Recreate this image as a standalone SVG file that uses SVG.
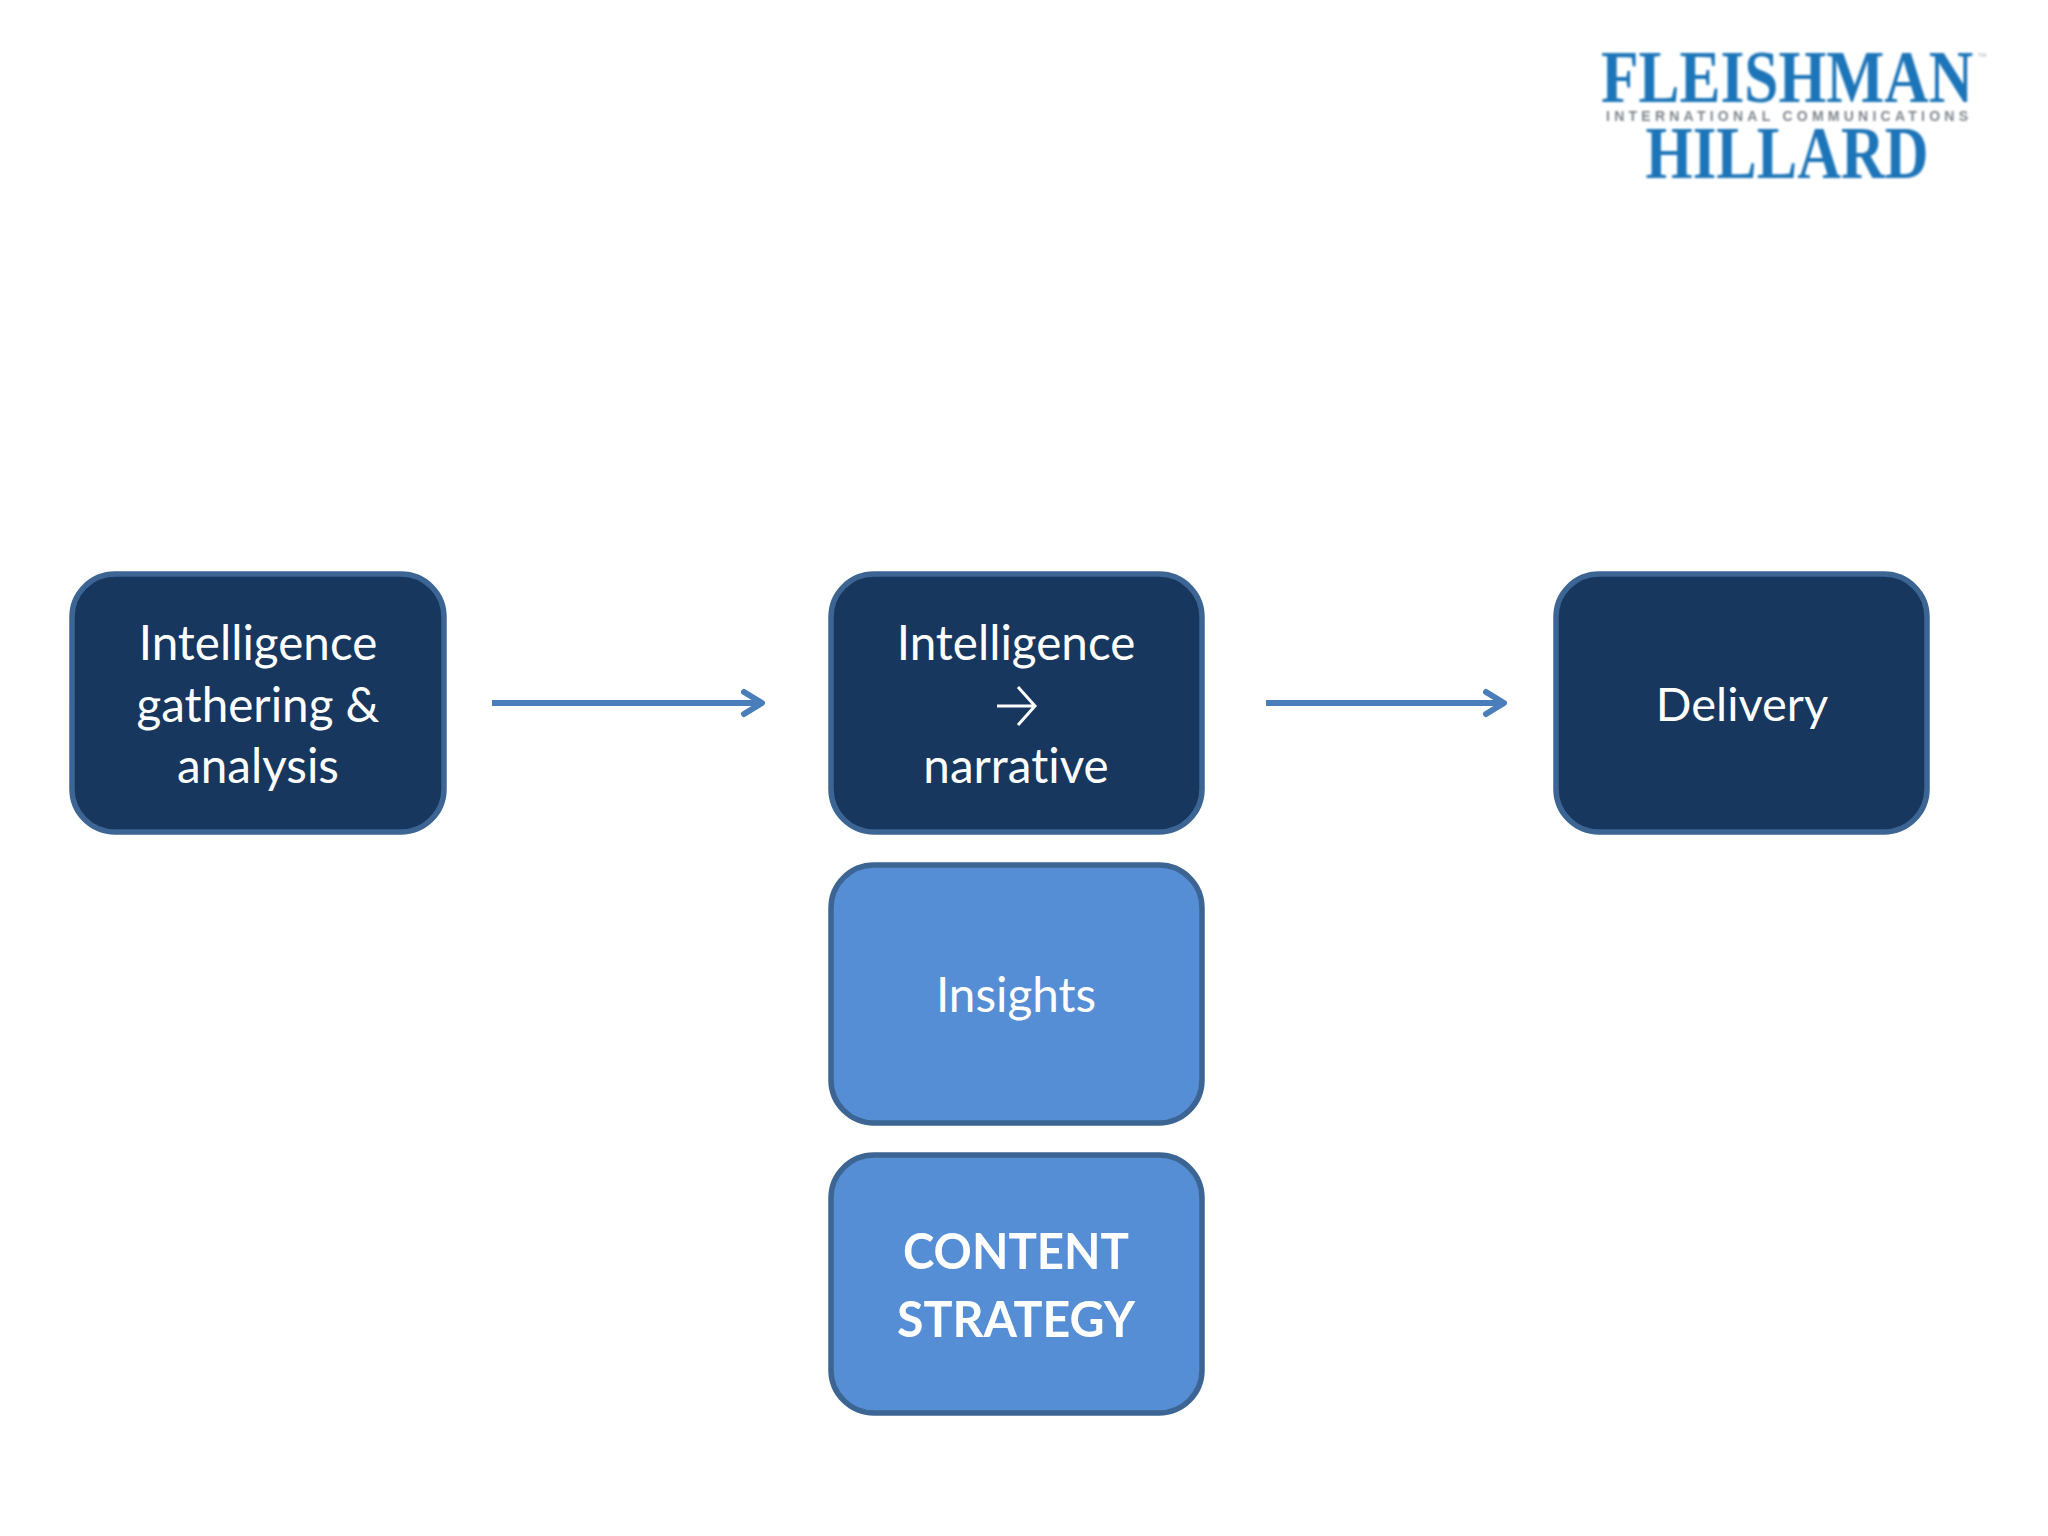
<svg xmlns="http://www.w3.org/2000/svg" width="2048" height="1536" viewBox="0 0 2048 1536">
<defs><filter id="soft" x="-5%" y="-20%" width="110%" height="140%"><feGaussianBlur stdDeviation="0.9"/></filter></defs>
<style>
.box{stroke:#3d6594;stroke-width:5.5}
.dark{fill:#17375e}
.light{fill:#558ed5}
.t{font-family:Lato,"Open Sans",sans-serif;font-size:47.6px;fill:#fff;text-anchor:middle;font-variant-ligatures:none}
.b{font-weight:700;font-size:50px}
.conn{fill:none;stroke:#4a7ebb;stroke-width:6;stroke-linejoin:round}
.logo{font-family:"Liberation Serif",serif;font-weight:700;fill:#1b75b8;text-anchor:middle}
</style>
<rect width="2048" height="1536" fill="#fff"/>
<g id="logo" filter="url(#soft)">
<text class="logo" x="1787" y="102" font-size="74" textLength="372" lengthAdjust="spacingAndGlyphs">FLEISHMAN</text>
<text x="1977" y="60" font-family="Liberation Sans,sans-serif" font-size="10" fill="#b5b8bc">™</text>
<text x="1787" y="121" font-family="Liberation Sans,sans-serif" font-weight="700" font-size="14" fill="#7f858c" text-anchor="middle" textLength="362" lengthAdjust="spacing">INTERNATIONAL COMMUNICATIONS</text>
<text class="logo" x="1787" y="178" font-size="73" textLength="283" lengthAdjust="spacingAndGlyphs">HILLARD</text>
</g>
<g id="connectors">
<path class="conn" d="M492 703H761"/><path class="conn" stroke-linecap="round" d="M744 692L762 703L744 714"/>
<path class="conn" d="M1266 703H1504"/><path class="conn" stroke-linecap="round" d="M1486 692L1504 703L1486 714"/>
</g>
<g id="node-gathering">
<rect class="box dark" x="72" y="574" width="372" height="258" rx="43"/>
<text class="t" x="258" y="660">Intelligence</text>
<text class="t" x="258" y="722">gathering &amp;</text>
<text class="t" x="258" y="783">analysis</text>
</g>
<g id="node-narrative">
<rect class="box dark" x="831" y="574" width="371" height="258" rx="43"/>
<text class="t" x="1016" y="660">Intelligence</text>
<path d="M997 706H1035M1018 687L1035 706L1018 725" fill="none" stroke="#fff" stroke-width="3"/>
<text class="t" x="1016" y="783">narrative</text>
</g>
<g id="node-delivery">
<rect class="box dark" x="1556" y="574" width="371" height="258" rx="43"/>
<text class="t" x="1742" y="721" style="font-size:47px">Delivery</text>
</g>
<g id="node-insights">
<rect class="box light" x="831" y="865" width="371" height="258" rx="43"/>
<text class="t" x="1016" y="1012">Insights</text>
</g>
<g id="node-content">
<rect class="box light" x="831" y="1155" width="371" height="258" rx="43"/>
<text class="t b" x="1016" y="1269" textLength="226" lengthAdjust="spacingAndGlyphs">CONTENT</text>
<text class="t b" x="1016" y="1337" textLength="238" lengthAdjust="spacingAndGlyphs">STRATEGY</text>
</g>
</svg>
